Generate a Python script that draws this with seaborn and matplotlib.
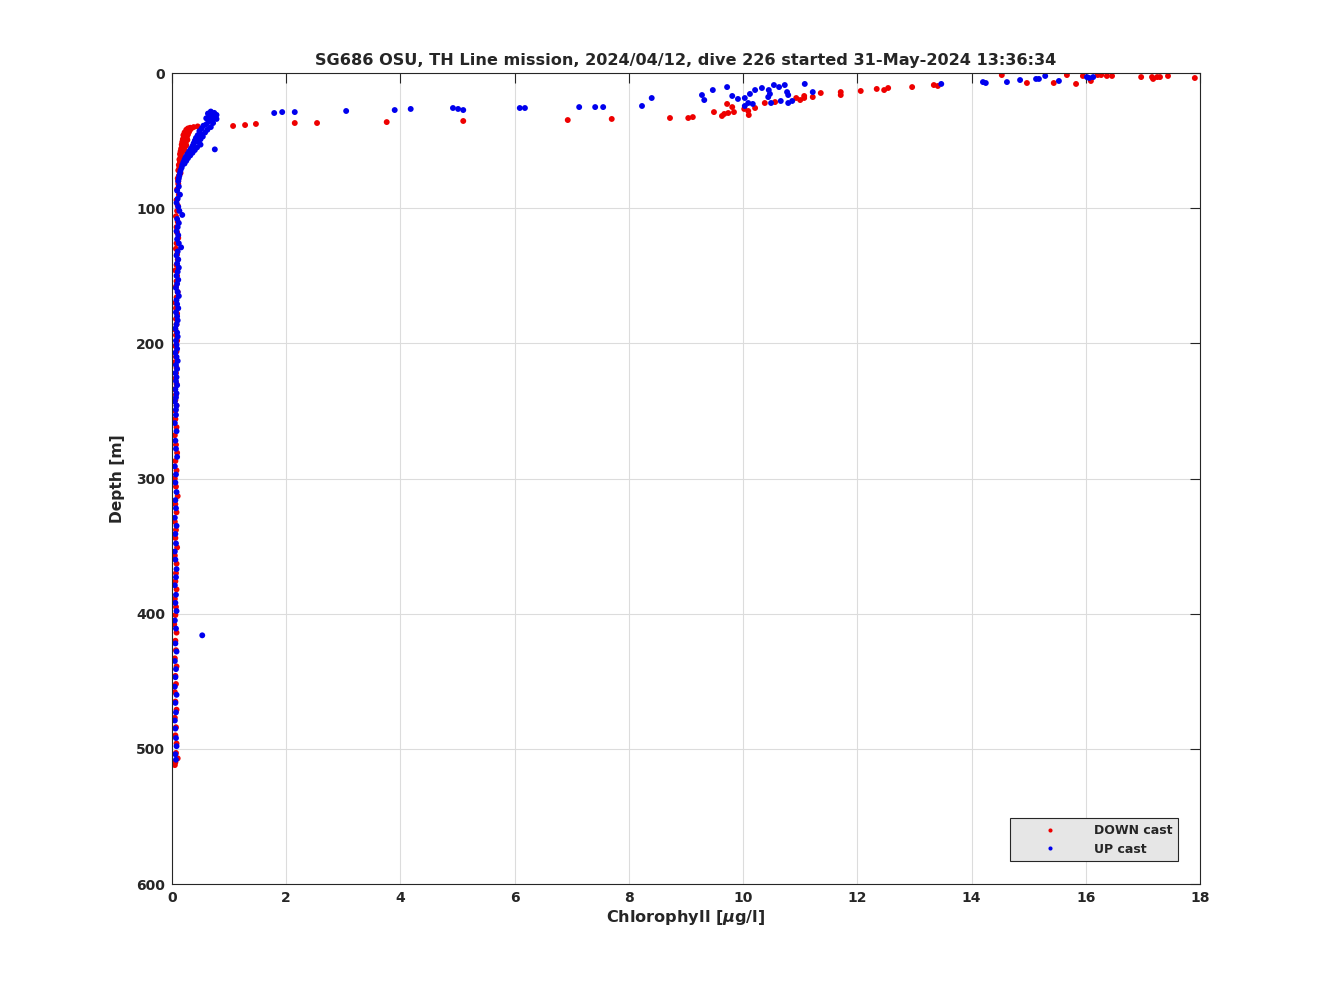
import pandas as pd
import matplotlib
matplotlib.use("Agg")
import matplotlib.pyplot as plt
import seaborn as sns

# ---- DOWN cast (red) ----
down_surf_chl = [1.07, 1.28, 1.47, 2.15, 2.54, 3.76, 5.10, 6.93, 7.70, 8.72,
                 9.04, 9.12, 9.49, 9.63, 9.67, 9.72, 9.74, 9.81, 9.84, 10.02,
                 10.10, 10.09, 10.21, 10.38, 10.56, 10.93, 11.00, 11.07, 11.07, 11.22,
                 11.36, 11.71, 11.71, 12.06, 12.34, 12.47, 12.54, 12.96, 13.34, 13.41,
                 14.53, 14.97, 15.44, 15.67, 15.83, 15.95, 16.09, 16.21, 16.27, 16.37,
                 16.46, 16.97, 17.16, 17.18, 17.25, 17.30, 17.44, 17.91]
down_surf_depth = [39.2, 38.5, 37.7, 37.0, 37.0, 36.3, 35.5, 34.8, 34.0, 33.3,
                   33.3, 32.6, 28.9, 31.8, 30.3, 22.9, 29.6, 25.2, 28.9, 26.6,
                   31.1, 28.1, 25.9, 22.2, 21.5, 18.5, 20.0, 18.5, 17.0, 17.8,
                   14.8, 14.1, 16.3, 13.3, 11.8, 12.6, 11.1, 10.4, 8.9, 9.6,
                   1.5, 7.4, 7.4, 1.5, 8.1, 2.2, 5.9, 1.5, 1.5, 2.2,
                   2.2, 3.0, 3.0, 4.4, 3.0, 3.0, 2.2, 3.7]

down_mid_depth = [39.5, 40, 40.5, 41, 42, 43, 44, 45, 46, 47,
                  48, 49, 50, 51, 52, 53, 54, 55, 56, 57,
                  58, 59, 60, 62, 64, 66, 68, 70, 72, 74,
                  76, 78, 80,
                  41.5, 43.5, 45.5, 47.5, 49.5, 51.5, 53.5, 55.5, 57.5]
down_mid_chl = [0.45, 0.38, 0.32, 0.28, 0.25, 0.27, 0.22, 0.24, 0.20, 0.22,
                0.21, 0.19, 0.20, 0.18, 0.20, 0.17, 0.19, 0.18, 0.16, 0.18,
                0.15, 0.17, 0.14, 0.15, 0.13, 0.14, 0.12, 0.13, 0.11, 0.15,
                0.12, 0.10, 0.11,
                0.33, 0.30, 0.28, 0.26, 0.27, 0.24, 0.25, 0.22, 0.21]

down_deep_depth = [82, 86, 90, 94, 98, 102, 106, 110, 114, 118,
                   122, 126, 130, 134, 138, 142, 146, 150, 154, 158,
                   162, 166, 170, 174, 178, 182, 186, 190, 194, 198,
                   202, 206, 210, 214, 218, 222, 226, 230, 234, 238,
                   242, 246, 250,
                   256, 262, 268, 275, 281, 287, 294, 300, 306, 313,
                   319, 325, 332, 338, 344, 351, 357, 363, 370, 376,
                   382, 389, 395, 401, 408, 414, 420, 427, 433, 439,
                   446, 452, 458, 465, 471, 477, 484, 490, 496, 503,
                   507, 510, 512]
down_deep_chl = [0.11, 0.09, 0.12, 0.08, 0.10, 0.09, 0.07, 0.10, 0.08, 0.09,
                 0.11, 0.08, 0.07, 0.09, 0.10, 0.08, 0.06, 0.09, 0.08, 0.07,
                 0.10, 0.08, 0.06, 0.07, 0.09, 0.07, 0.08, 0.06, 0.07, 0.09,
                 0.06, 0.08, 0.07, 0.05, 0.08, 0.07, 0.06, 0.08, 0.05, 0.07,
                 0.06, 0.08, 0.06,
                 0.06, 0.08, 0.05, 0.07, 0.09, 0.06, 0.08, 0.05, 0.07, 0.10,
                 0.06, 0.08, 0.05, 0.07, 0.06, 0.09, 0.05, 0.08, 0.07, 0.06,
                 0.08, 0.05, 0.07, 0.06, 0.04, 0.08, 0.06, 0.07, 0.05, 0.08,
                 0.06, 0.07, 0.05, 0.06, 0.08, 0.05, 0.07, 0.06, 0.08, 0.07,
                 0.10, 0.06, 0.05]

# ---- UP cast (blue) ----
up_surf_chl = [1.79, 1.93, 2.15, 3.05, 3.90, 4.18, 4.92, 5.01, 5.10, 6.09,
               6.18, 7.13, 7.41, 7.55, 8.23, 8.40, 9.28, 9.32, 9.47, 9.72,
               9.81, 9.91, 10.03, 10.12, 10.21, 10.33, 10.45, 10.47, 10.44, 10.54,
               10.63, 10.73, 10.77, 10.79, 10.66, 10.79, 10.86, 11.08, 11.22, 10.03,
               10.09, 10.17, 10.49, 13.47, 14.20, 14.25, 14.62, 14.85, 15.13, 15.18,
               15.29, 15.53, 16.02, 16.06, 16.13]
up_surf_depth = [29.6, 28.9, 28.9, 28.1, 27.4, 26.6, 25.9, 26.6, 27.4, 25.9,
                 25.9, 25.2, 25.2, 25.2, 24.4, 18.5, 16.3, 20.0, 12.6, 10.4,
                 17.0, 19.2, 18.5, 15.5, 12.6, 11.1, 12.6, 15.5, 17.8, 8.9,
                 10.4, 8.9, 14.1, 16.3, 20.7, 22.2, 20.7, 8.1, 14.1, 24.4,
                 22.2, 22.9, 22.2, 8.1, 6.7, 7.4, 6.7, 5.2, 4.4, 4.4,
                 2.2, 5.9, 3.0, 3.7, 3.0]

up_mid_depth = [28.5, 29.5, 30, 31, 31.5, 32, 33, 33.5, 34, 35,
                36, 37, 38, 39, 40, 41, 42, 43, 44, 45,
                46, 47, 48, 49, 50, 51, 52, 53, 54, 55,
                56, 56.5, 57, 58, 59, 60, 61, 62, 63, 64,
                65, 66, 67, 68, 70, 72, 74, 76, 78, 80]
up_mid_chl = [0.68, 0.74, 0.63, 0.78, 0.70, 0.66, 0.74, 0.60, 0.78, 0.70,
              0.64, 0.72, 0.60, 0.55, 0.68, 0.52, 0.62, 0.48, 0.58, 0.50,
              0.45, 0.54, 0.42, 0.50, 0.40, 0.46, 0.38, 0.50, 0.36, 0.44,
              0.33, 0.75, 0.40, 0.30, 0.36, 0.27, 0.32, 0.24, 0.28, 0.22,
              0.25, 0.20, 0.22, 0.18, 0.17, 0.15, 0.14, 0.13, 0.12, 0.11]

up_deep_depth = [84, 87, 90, 93, 96, 99, 102, 105, 108, 111,
                 114, 117, 120, 123, 126, 129, 132, 135, 138, 141,
                 144, 147, 150, 153, 156, 159, 162, 165, 168, 171,
                 174, 177, 180, 183, 186, 189, 192, 195, 198, 201,
                 204, 207, 210, 213, 216, 219, 222, 225, 228, 231,
                 234, 237, 240, 243, 246, 249,
                 253, 259, 265, 272, 278, 284, 291, 297, 303, 310,
                 316, 322, 329, 335, 341, 348, 354, 360, 367, 373,
                 379, 386, 392, 398, 405, 411, 416, 422, 428, 435,
                 441, 447, 454, 460, 466, 473, 479, 485, 492, 498,
                 504, 508]
up_deep_chl = [0.12, 0.09, 0.14, 0.10, 0.08, 0.11, 0.13, 0.18, 0.09, 0.12,
               0.10, 0.08, 0.11, 0.09, 0.12, 0.16, 0.10, 0.08, 0.11, 0.09,
               0.12, 0.10, 0.08, 0.11, 0.09, 0.07, 0.10, 0.12, 0.08, 0.09,
               0.11, 0.07, 0.09, 0.10, 0.08, 0.06, 0.09, 0.10, 0.07, 0.08,
               0.09, 0.06, 0.08, 0.10, 0.07, 0.09, 0.06, 0.08, 0.07, 0.09,
               0.06, 0.08, 0.07, 0.05, 0.08, 0.07,
               0.07, 0.05, 0.08, 0.06, 0.07, 0.09, 0.05, 0.07, 0.06, 0.08,
               0.06, 0.07, 0.05, 0.08, 0.06, 0.07, 0.05, 0.06, 0.08, 0.07,
               0.05, 0.07, 0.06, 0.08, 0.05, 0.07, 0.53, 0.06, 0.08, 0.05,
               0.07, 0.06, 0.05, 0.08, 0.06, 0.07, 0.05, 0.06, 0.07, 0.08,
               0.06, 0.07]

down = pd.DataFrame({"chl": down_surf_chl + down_mid_chl + down_deep_chl,
                     "depth": down_surf_depth + down_mid_depth + down_deep_depth})
down["cast"] = "DOWN cast"
up = pd.DataFrame({"chl": up_surf_chl + up_mid_chl + up_deep_chl,
                   "depth": up_surf_depth + up_mid_depth + up_deep_depth})
up["cast"] = "UP cast"
df = pd.concat([down, up], ignore_index=True)

sns.set_style("white")
plt.rcParams["font.family"] = ["DejaVu Sans"]
plt.rcParams["font.weight"] = "bold"

fig = plt.figure(figsize=(13.28, 9.96), dpi=100)
ax = fig.add_axes([0.1295, 0.1124, 0.7741, 0.8143])

sns.scatterplot(data=df, x="chl", y="depth", hue="cast",
                palette={"DOWN cast": "#ee0000", "UP cast": "#0000ee"},
                s=18, edgecolor="none", linewidth=0, ax=ax)

ax.set_xlim(0, 18)
ax.set_ylim(600, 0)
ax.set_xticks(range(0, 19, 2))
ax.set_yticks(range(0, 601, 100))
ax.grid(True, color="#dcdcdc", linewidth=0.8)
ax.set_axisbelow(True)
ax.tick_params(direction="in", length=7, width=0.8, top=True, right=True,
               labelsize=10, colors="#262626", pad=5)
for lab in ax.get_xticklabels() + ax.get_yticklabels():
    lab.set_fontweight("bold")
for sp in ax.spines.values():
    sp.set_color("#262626")
    sp.set_linewidth(0.8)

ax.set_xlabel(r"Chlorophyll [$\mu$g/l]", fontsize=11.6, fontweight="bold", labelpad=2)
ax.set_ylabel("Depth [m]", fontsize=11.2, fontweight="bold", labelpad=8)
ax.set_title("SG686 OSU, TH Line mission, 2024/04/12, dive 226 started 31-May-2024 13:36:34",
             fontsize=11.6, fontweight="bold", pad=6)

handles, labels = ax.get_legend_handles_labels()
leg = ax.legend(handles, labels, loc="lower right", bbox_to_anchor=(0.979, 0.028),
                prop={"weight": "bold", "size": 9},
                frameon=True, fancybox=False, framealpha=1,
                facecolor="#e6e6e6", edgecolor="#262626",
                handlelength=5.5, handletextpad=0.8, labelspacing=0.45,
                borderpad=0.45, borderaxespad=0, markerscale=0.7)
leg.get_frame().set_linewidth(0.8)

fig.savefig("out.png", dpi=100, facecolor="white")
